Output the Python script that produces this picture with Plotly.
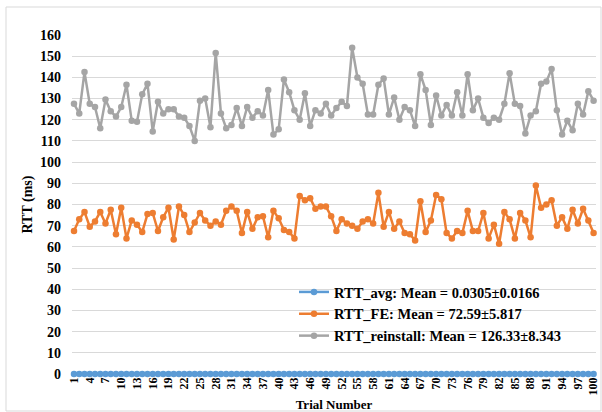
import plotly.graph_objects as go

# Round-trip times per trial (ms)
trials = list(range(1, 101))

rtt_avg = [
    0.03, 0.03, 0.03, 0.03, 0.03, 0.03, 0.03, 0.03, 0.03, 0.03,
    0.03, 0.03, 0.03, 0.03, 0.03, 0.03, 0.03, 0.03, 0.03, 0.03,
    0.03, 0.03, 0.03, 0.03, 0.03, 0.03, 0.03, 0.03, 0.03, 0.03,
    0.03, 0.03, 0.03, 0.03, 0.03, 0.03, 0.03, 0.03, 0.03, 0.03,
    0.03, 0.03, 0.03, 0.03, 0.03, 0.03, 0.03, 0.03, 0.03, 0.03,
    0.03, 0.03, 0.03, 0.03, 0.03, 0.03, 0.03, 0.03, 0.03, 0.03,
    0.03, 0.03, 0.03, 0.03, 0.03, 0.03, 0.03, 0.03, 0.03, 0.03,
    0.03, 0.03, 0.03, 0.03, 0.03, 0.03, 0.03, 0.03, 0.03, 0.03,
    0.03, 0.03, 0.03, 0.03, 0.03, 0.03, 0.03, 0.03, 0.03, 0.03,
    0.03, 0.03, 0.03, 0.03, 0.03, 0.03, 0.03, 0.03, 0.03, 0.03,
]

rtt_fe = [
    67.5, 73, 76.5, 69.5, 72, 76.5, 71, 77.5, 66, 78.5,
    64, 72.5, 70.5, 67, 75.5, 76, 67.5, 74, 78.5, 63.5,
    79, 75, 67, 71.5, 76, 72.5, 70, 72, 70.5, 77,
    79, 77, 66.5, 76.5, 68.5, 74, 74.5, 64.5, 77, 73.5,
    68, 67, 64, 84, 82, 83, 78, 79, 79, 74.5,
    67.5, 73, 71, 70, 68.5, 72, 73, 71, 85.5, 69.5,
    76.5, 68.5, 72, 66.5, 66, 63, 81.5, 67, 72.5, 84.5,
    82.5, 66.5, 64, 67.5, 66.5, 77, 67.5, 67.5, 76, 64,
    70.5, 61.5, 76.5, 73, 64, 76, 72.5, 64.5, 89, 78.5,
    80, 82, 70, 74, 68.5, 77.5, 71, 78, 72.5, 66.5,
]

rtt_reinstall = [
    127.5, 123, 142.5, 127.5, 126, 116, 129.5, 124, 121.5, 126,
    136.5, 119.5, 119, 132, 137, 114.5, 128.5, 123, 125, 125,
    121.5, 121, 117, 110, 129, 130, 116.5, 151.5, 123, 116,
    117.5, 125.5, 117, 126, 121, 124, 122, 134, 113, 115.5,
    139, 133, 124.5, 120, 132.5, 117, 124.5, 123, 127.5, 122,
    125.5, 128.5, 126.5, 154, 140, 137, 122.5, 122.5, 136.5, 139.5,
    122.5, 130.5, 120, 126, 124.5, 117, 141.5, 134, 117.5, 131.5,
    122, 127, 122, 133, 122, 141.5, 124.5, 130, 121, 118.5,
    121, 120, 127.5, 142, 127.5, 126.5, 113.5, 122, 124, 137,
    138, 144, 124.5, 113, 119.5, 115, 127.5, 122.5, 133.5, 129,
]

series_names = [
    "RTT_avg: Mean = 0.0305±0.0166",
    "RTT_FE: Mean = 72.59±5.817",
    "RTT_reinstall: Mean = 126.33±8.343",
]
series_colors = ["#5B9BD5", "#ED7D31", "#A5A5A5"]

x_ticks = list(range(1, 101, 3))
y_ticks = list(range(0, 161, 10))

W, H = 602, 412
M_L, M_R, M_T, M_B = 72, 6, 35, 38
FONT = "Liberation Serif"

fig = go.Figure()
for name, ys, col in zip(series_names, [rtt_avg, rtt_fe, rtt_reinstall], series_colors):
    fig.add_trace(go.Scatter(
        x=trials, y=ys, name=name, mode="lines+markers",
        line=dict(color=col, width=2.5),
        marker=dict(color=col, size=6.5),
        cliponaxis=False,
    ))

# chart-area border, in pixels converted to paper units
pw = W - M_L - M_R
ph = H - M_T - M_B
def px_x(px):
    return (px - M_L) / pw
def px_y(py):
    return (H - M_B - py) / ph

fig.add_shape(type="rect", xref="paper", yref="paper",
              x0=px_x(6), x1=px_x(601), y0=px_y(411), y1=px_y(7),
              line=dict(color="#D9D9D9", width=1), layer="below")

fig.update_layout(
    width=W, height=H,
    margin=dict(l=M_L, r=M_R, t=M_T, b=M_B, autoexpand=False),
    paper_bgcolor="white", plot_bgcolor="white",
    font=dict(family=FONT, color="black", size=13, weight="bold"),
    showlegend=True,
    legend=dict(
        x=px_x(294), y=px_y(276), xanchor="left", yanchor="top",
        bgcolor="rgba(0,0,0,0)", borderwidth=0,
        font=dict(family=FONT, size=14.5, color="black", weight="bold"),
        tracegroupgap=0, itemwidth=30,
    ),
    xaxis=dict(
        range=[0.62, 100.46], tickmode="array", tickvals=x_ticks,
        ticktext=[str(v) for v in x_ticks], tickangle=-90,
        tickfont=dict(family=FONT, size=12, weight="bold"),
        showgrid=False, zeroline=False, showline=False, ticks="",
        automargin=False,
        title=dict(text="Trial Number", font=dict(family=FONT, size=13, weight="bold"), standoff=5),
    ),
    yaxis=dict(
        range=[0, 160], tickmode="array", tickvals=y_ticks,
        tickfont=dict(family=FONT, size=14, weight="bold"),
        showgrid=True, gridcolor="#D9D9D9", gridwidth=1,
        zeroline=False, showline=False, ticks="", ticklabelstandoff=10,
        automargin=False,
        title=dict(text="RTT (ms)", font=dict(family=FONT, size=14, weight="bold"), standoff=4),
    ),
)

fig.write_html("out.html")
